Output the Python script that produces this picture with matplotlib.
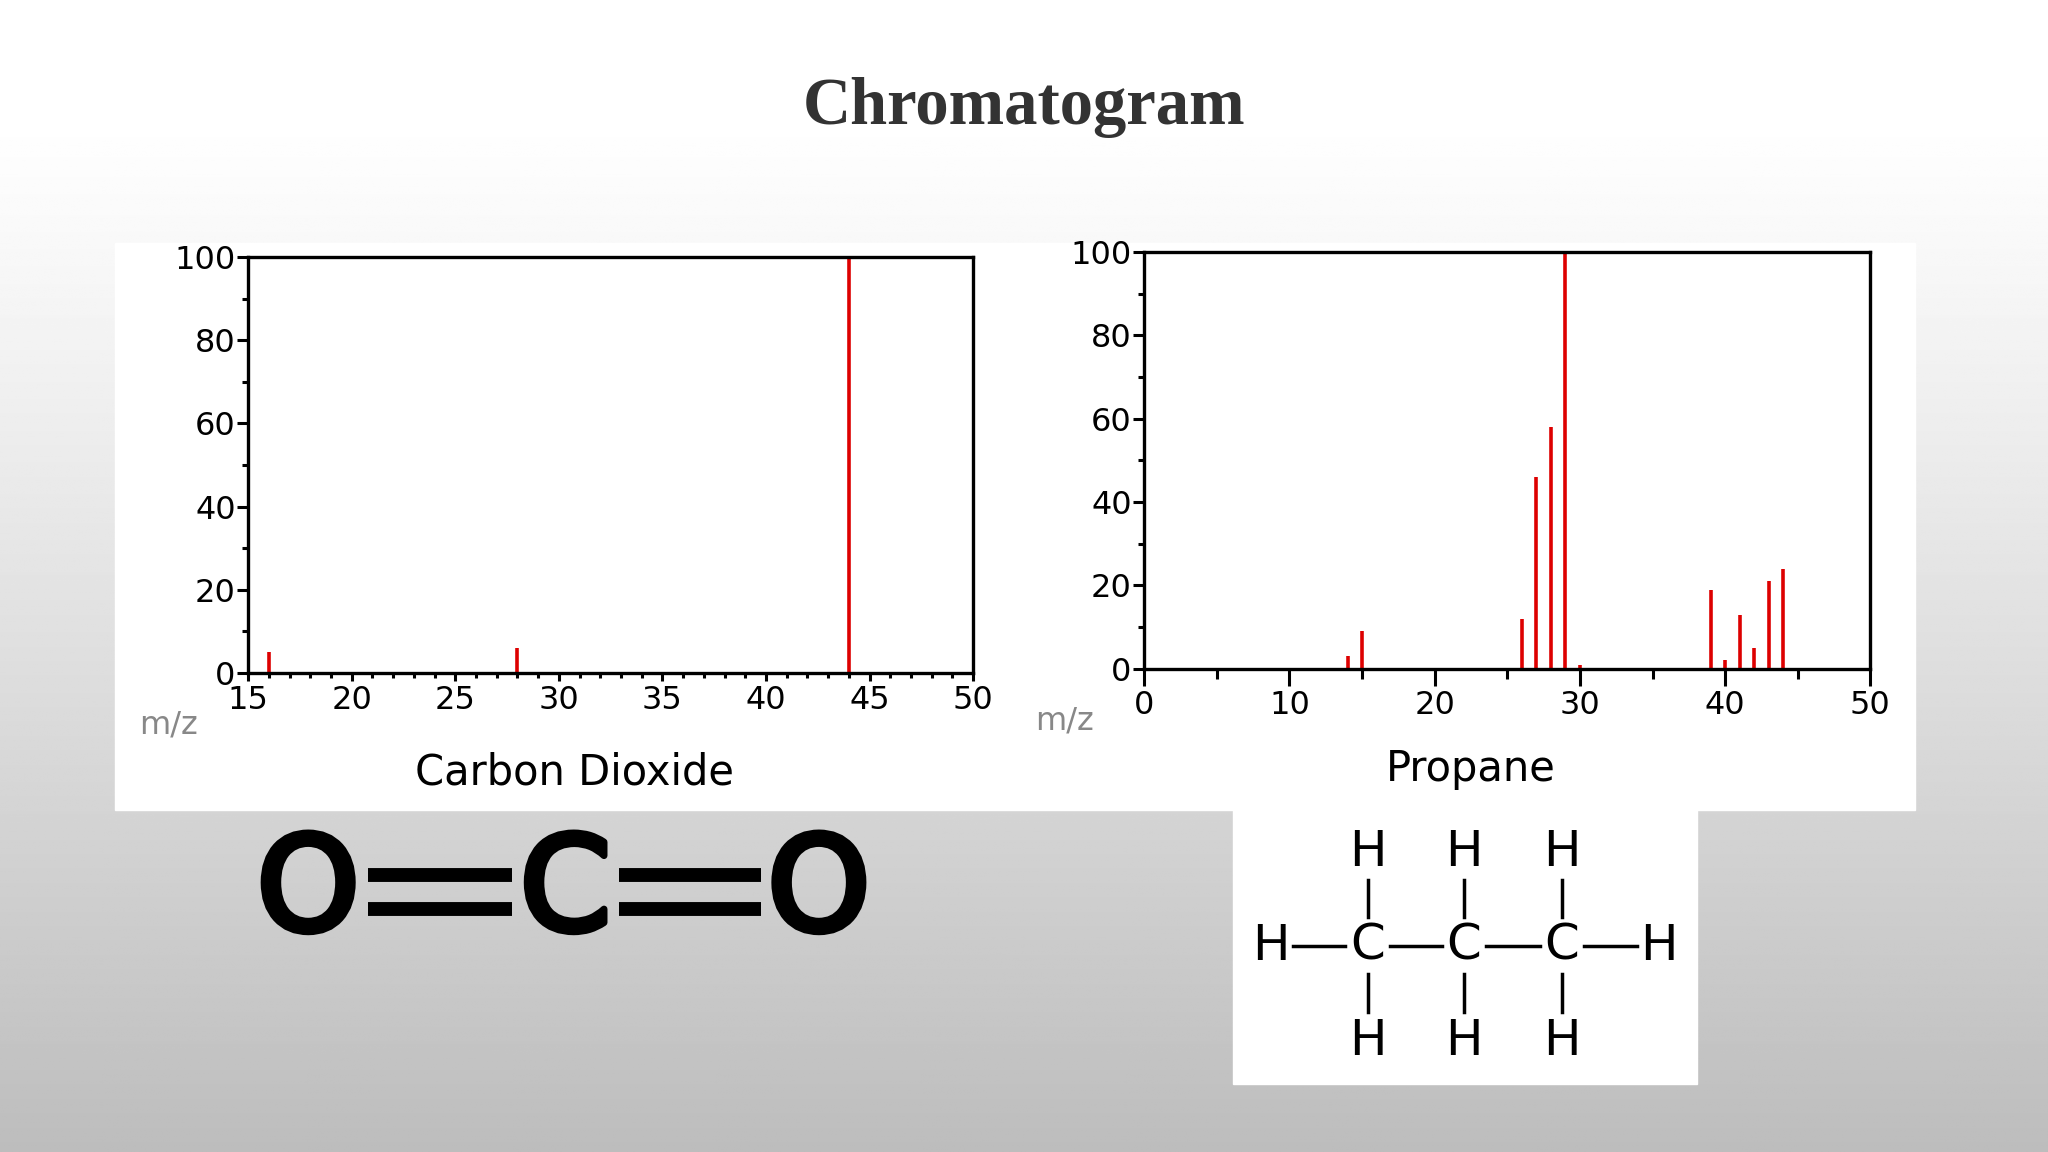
import numpy as np
import matplotlib.pyplot as plt
import matplotlib.patheffects as pe
from matplotlib.patches import Rectangle
from matplotlib.ticker import MultipleLocator

# spectra (m/z, relative intensity)
co2_mz = [16, 28, 44]
co2_int = [5, 6, 100]

propane_mz = [14, 15, 26, 27, 28, 29, 30, 39, 40, 41, 42, 43, 44]
propane_int = [3, 9, 12, 46, 58, 100, 1, 19, 2, 13, 5, 21, 24]

W, H = 1568, 882  # layout coords of the slide

fig = plt.figure(figsize=(20.48, 11.52), dpi=100)

# slide background + drawing layer
bg = fig.add_axes([0, 0, 1, 1])
bg.set_xlim(0, W)
bg.set_ylim(H, 0)
bg.axis('off')
grad = np.linspace(0, 1, 400)
grad = 1.0 - 0.26 * np.clip((grad - 0.1) / 0.9, 0, 1) ** 1.1
bg.imshow(grad[:, None] * np.ones((1, 10)), cmap='gray', vmin=0, vmax=1,
          extent=[0, W, H, 0], aspect='auto', zorder=0)

bg.add_patch(Rectangle((88, 186), 1378, 434, color='white', zorder=1))
bg.add_patch(Rectangle((944, 620), 355, 210, color='white', zorder=1))

bg.text(784, 82, 'Chromatogram', ha='center', va='center', fontsize=48,
        fontweight='bold', family='Liberation Serif', color='#333333', zorder=2)


def pos(x0, y0, x1, y1):
    return [x0 / W, 1 - y1 / H, (x1 - x0) / W, (y1 - y0) / H]


def spectrum(rect, mz, inten, xlim, xmaj, xmin, name, tlen):
    ax = fig.add_axes(rect)
    ax.vlines(mz, 0, inten, color='#dd0000', lw=2.6)
    ax.set_xlim(*xlim)
    ax.set_ylim(0, 100)
    for s in ax.spines.values():
        s.set_linewidth(2.4)
    ax.yaxis.set_major_locator(MultipleLocator(20))
    ax.yaxis.set_minor_locator(MultipleLocator(10))
    ax.xaxis.set_major_locator(MultipleLocator(xmaj))
    ax.xaxis.set_minor_locator(MultipleLocator(xmin))
    ax.tick_params(axis='y', which='major', length=8, width=2.2, labelsize=23, pad=1)
    ax.tick_params(axis='y', which='minor', length=4, width=2.2)
    ax.tick_params(axis='x', which='major', length=tlen, width=2.2, labelsize=23, pad=3)
    ax.tick_params(axis='x', which='minor', length=tlen * 0.6, width=2.2)
    ax.text(-0.15, -0.125, 'm/z', transform=ax.transAxes, color='#888888',
            fontsize=23, ha='left', va='center')
    ax.text(0.45, -0.24, name, transform=ax.transAxes, fontsize=30,
            ha='center', va='center')
    return ax


spectrum(pos(190, 197, 745, 515), co2_mz, co2_int, (15, 50), 5, 1,
         'Carbon Dioxide', 6)
spectrum(pos(876, 193, 1432, 512), propane_mz, propane_int, (0, 50), 10, 5,
         'Propane', 12)

# O=C=O
for x, t in [(236, 'O'), (433, 'C'), (627, 'O')]:
    bg.text(x, 684, t, ha='center', va='center', fontsize=94,
            family='DejaVu Sans', zorder=3,
            path_effects=[pe.withStroke(linewidth=5, foreground='black')])
for xa, xb in [(282, 392), (474, 583)]:
    for yy in (670, 696):
        bg.plot([xa, xb], [yy, yy], color='black', lw=10, solid_capstyle='butt', zorder=3)

# propane structure
cx = [1047, 1121, 1196]
for x in cx:
    bg.text(x, 724, 'C', ha='center', va='center', fontsize=36, zorder=3)
    bg.text(x, 652, 'H', ha='center', va='center', fontsize=36, zorder=3)
    bg.text(x, 797, 'H', ha='center', va='center', fontsize=36, zorder=3)
    bg.plot([x, x], [674, 702], color='black', lw=2.5, zorder=3)
    bg.plot([x, x], [746, 775], color='black', lw=2.5, zorder=3)
bg.text(973, 724, 'H', ha='center', va='center', fontsize=36, zorder=3)
bg.text(1270, 724, 'H', ha='center', va='center', fontsize=36, zorder=3)
for xa, xb in [(990, 1030), (1064, 1104), (1138, 1179), (1213, 1253)]:
    bg.plot([xa, xb], [724, 724], color='black', lw=2.5, zorder=3)

fig.savefig('out.png', dpi=100)
